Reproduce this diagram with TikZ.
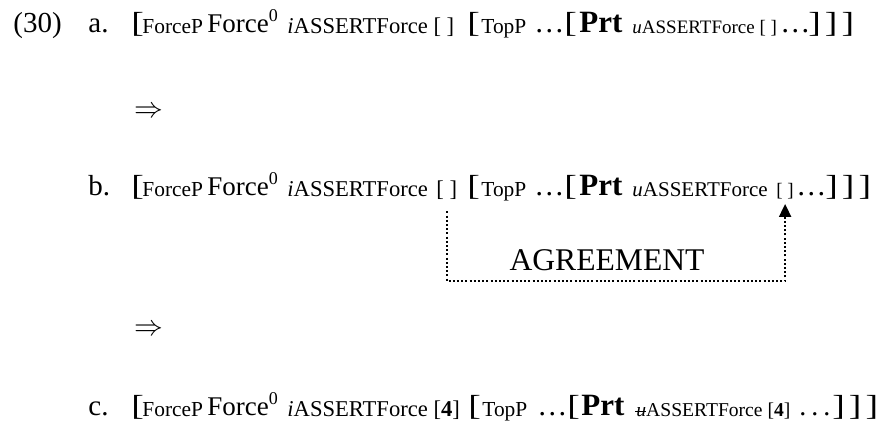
\documentclass[tikz,border=0pt]{standalone}
\usepackage{fontspec}
\setmainfont{Liberation Serif}
\usetikzlibrary{positioning,arrows.meta}

\newcommand{\zero}{\raisebox{5.5pt}{\fontsize{9}{9}\selectfont 0}}
\newcommand{\obr}{\scalebox{1.3}[1]{[}}
\newcommand{\cbrs}{\scalebox{1.3}[1]{]}\hspace{2pt}\scalebox{1.3}[1]{]}\hspace{2pt}\scalebox{1.3}[1]{]}}
\newcommand{\stku}{\makebox[0pt][l]{\hspace{-0.5pt}\rule[2pt]{5.5pt}{0.6pt}}\textit{u}}

\begin{document}
\begin{tikzpicture}[x=0.5pt,y=0.5pt,yscale=-1,xscale=1,
  every node/.style={inner sep=0pt,anchor=base west},
  lbl/.style={font=\fontsize{14.5}{16}\selectfont},
  brk/.style={font=\fontsize{14.5}{16}\selectfont},
  plab/.style={font=\fontsize{10.7}{12}\selectfont},
  headtxt/.style={font=\fontsize{13.5}{15}\selectfont},
  feat/.style={font=\fontsize{11.3}{13}\selectfont},
  featsm/.style={font=\fontsize{9.5}{11}\selectfont},
  prt/.style={font=\fontsize{15.5}{17}\selectfont\bfseries},
  ell/.style={font=\fontsize{15}{17}\selectfont},
  dotline/.style={line width=1pt,dash pattern=on 1pt off 1.1pt}]
%set diagram left start at 0, and has height of 427
\useasboundingbox (0,0) rectangle (881,427);

% Text Node
\node[lbl] (exnum) at (13,33) {(30)};
% Text Node
\node[lbl] (la) at (88,33) {a.};
% Text Node
\node[brk] (a-br1) at (131,33) {\obr};
\node[plab] (a-fp) at (142,34) {ForceP};
\node[headtxt] (a-head) at (207,33) {Force\zero};
\node[feat] (a-feat) at (287,34) {\textit{i}ASSERTForce [ ]};
\node[brk] (a-br2) at (467,33) {\obr};
\node[plab] (a-top) at (481,34) {TopP};
\node[ell] (a-dots1) at (534,33) {\dots};
\node[brk] (a-br3) at (564,33) {\obr};
\node[prt] (a-prt) at (579,33) {Prt};
\node[featsm] (a-feat2) at (632,34) {\textit{u}ASSERTForce [ ]};
\node[ell] (a-dots2) at (780,33) {\dots};
\node[brk] (a-close) at (808,33) {\cbrs};

% Text Node
\node[lbl,anchor=center] (imp1) at (149,112) {$\Rightarrow$};

% Text Node
\node[lbl] (lb) at (88,195) {b.};
% Text Node
\node[brk] (b-br1) at (131,195) {\obr};
\node[plab] (b-fp) at (142,196) {ForceP};
\node[headtxt] (b-head) at (207,195) {Force\zero};
\node[feat] (b-feat) at (287,196) {\textit{i}ASSERTForce};
\node[feat] (b-slot1) at (436,196) {[ ]};
\node[brk] (b-br2) at (467,195) {\obr};
\node[plab] (b-top) at (481,196) {TopP};
\node[ell] (b-dots1) at (534,195) {\dots};
\node[brk] (b-br3) at (564,195) {\obr};
\node[prt] (b-prt) at (579,195) {Prt};
\node[featsm,font=\fontsize{10.5}{12}\selectfont] (b-feat2) at (632,196) {\textit{u}ASSERTForce};
\node[featsm] (b-slot2) at (776,196) {[ ]};
\node[ell] (b-dots2) at (796,195) {\dots};
\node[brk] (b-close) at (825,195) {\cbrs};

% Text Node
\node[font=\fontsize{15.8}{18}\selectfont,anchor=base] (agr) at (607,270) {AGREEMENT};
\coordinate (agrbase) at (607,281);

% Agreement connector
\draw[dotline,-{Triangle[length=6.5pt,width=6pt]}] ([yshift=6pt]b-slot1.south) -- (b-slot1.south |- agrbase) -- (b-slot2.south |- agrbase) -- ([yshift=2.5pt]b-slot2.south);

% Text Node
\node[lbl,anchor=center] (imp2) at (149,330) {$\Rightarrow$};

% Text Node
\node[lbl] (lc) at (88,415) {c.};
% Text Node
\node[brk] (c-br1) at (131,415) {\obr};
\node[plab] (c-fp) at (142,416) {ForceP};
\node[headtxt] (c-head) at (207,415) {Force\zero};
\node[feat] (c-feat) at (287,416) {\textit{i}ASSERTForce [\textbf{4}]};
\node[brk] (c-br2) at (468,415) {\obr};
\node[plab] (c-top) at (482,416) {TopP};
\node[ell] (c-dots1) at (537,415) {\dots};
\node[brk] (c-br3) at (567,415) {\obr};
\node[prt] (c-prt) at (581,415) {Prt};
\node[featsm,font=\fontsize{9.8}{11}\selectfont] (c-feat2) at (636,416) {\stku ASSERTForce [\textbf{4}]};
\node[font=\fontsize{14}{16}\selectfont] (c-dots2) at (799,415) {.\hspace{2.5pt}.\hspace{2.5pt}.};
\node[brk] (c-close) at (832,415) {\cbrs};

\end{tikzpicture}
\end{document}
